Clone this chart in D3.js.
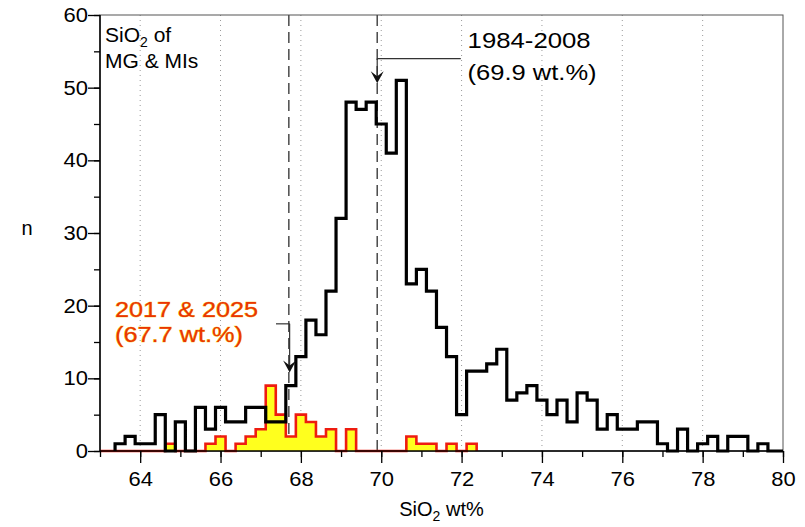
<!DOCTYPE html>
<html><head><meta charset="utf-8">
<script src="https://cdn.jsdelivr.net/npm/d3@7"></script>
<style>
html,body{margin:0;padding:0;background:#fff;}
svg text{font-family:"Liberation Sans",Arial,Helvetica,sans-serif;}
</style></head>
<body><svg id="chart" width="805" height="527"></svg>
<script>
// ---- data ----
const binWidth = 0.25;
const binFirstEdge = 63.375;
// counts for 1984-2008 (MG & MIs), bins centred 63.5 ... 79.75
const countsOld = [1,2,1,1,5,0,4,0,6,3,6,4,4,6,6,4,4,
                   9,13,18,16,22,32,48,47,48,45,41,51,23,25,22,17,13,
                   5,11,11,12,14,7,8,9,7,5,7,4,8,7,3,5,
                   3,3,4,4,1,0,3,0,1,2,0,2,2,0,1,0];
// counts for 2017 & 2025, bins centred 63.5 ... 72.25
const countsNew = [0,0,0,0,0,1,0,0,0,1,2,0,1,2,3,9,5,2,5,4,2,3,0,3,0,0,0,0,0,2,1,1,0,1,0,1];
const xTickMajor = [64,66,68,70,72,74,76,78,80];
const xTickMinor = d3.range(63,81,1);
const yTickMajor = [0,10,20,30,40,50,60];
const yTickMinor = d3.range(0,61,5);
const meanOld = 69.9, meanNew = 67.7;
const labelOld = ["1984-2008","(69.9 wt.%)"];
const labelNew = ["2017 & 2025","(67.7 wt.%)"];

// ---- layout ----
const svg = d3.select("#chart");
const m = {l:100, t:15, r:22, b:76};
const W = 805 - m.l - m.r, H = 527 - m.t - m.b;
const x = d3.scaleLinear().domain([63,80]).range([m.l, m.l+W]);
const y = d3.scaleLinear().domain([0,60]).range([m.t+H, m.t]);

// gridlines (dotted)
svg.append("g").selectAll("line").data(xTickMajor.filter(v=>v<80)).join("line")
  .attr("x1",d=>x(d)).attr("x2",d=>x(d)).attr("y1",y(0)).attr("y2",y(60))
  .attr("stroke","#9a9a9a").attr("stroke-width",1).attr("stroke-dasharray","1,4");

// frame
svg.append("rect").attr("x",x(63)).attr("y",y(60)).attr("width",x(80)-x(63)).attr("height",y(0)-y(60))
  .attr("fill","none").attr("stroke","#555").attr("stroke-width",1);

// mean dashed lines
svg.append("g").selectAll("line").data([meanNew, meanOld]).join("line")
  .attr("x1",d=>x(d)).attr("x2",d=>x(d)).attr("y1",y(0)).attr("y2",y(60))
  .attr("stroke","#4a4a4a").attr("stroke-width",1.5).attr("stroke-dasharray","11,6");

function stepPoints(counts, startPad, endPad){
  const pts = [];
  if (startPad!==null) pts.push([startPad,0]);
  pts.push([binFirstEdge,0]);
  counts.forEach((c,i)=>pts.push([binFirstEdge+i*binWidth, c]));
  const end = binFirstEdge + counts.length*binWidth;
  pts.push([end,0]);
  if (endPad!==null) pts.push([endPad,0]);
  return pts;
}
const line = d3.line().x(d=>x(d[0])).y(d=>y(d[1])).curve(d3.curveStepAfter);
const area = d3.area().x(d=>x(d[0])).y0(y(0)).y1(d=>y(d[1])).curve(d3.curveStepAfter);

const ptsNew = stepPoints(countsNew, 63, null);
svg.append("path").attr("d",area(ptsNew)).attr("fill","#ffff1e");
svg.append("path").attr("d",line(ptsNew)).attr("fill","none").attr("stroke","#ee1c10").attr("stroke-width",2.6).attr("stroke-linejoin","miter");

const ptsOld = stepPoints(countsOld, null, 80);
svg.append("path").attr("d",line(ptsOld)).attr("fill","none").attr("stroke","#000").attr("stroke-width",3.2).attr("stroke-linejoin","miter");

// axes
const axB = svg.append("g").attr("transform",`translate(0,${y(0)})`);
axB.append("g").call(d3.axisBottom(x).tickValues(xTickMinor).tickSize(6).tickFormat(""))
  .call(g=>g.select(".domain").remove());
axB.append("g").call(d3.axisBottom(x).tickValues(xTickMajor).tickSize(12).tickPadding(9).tickFormat(d3.format("d")))
  .call(g=>g.select(".domain").remove());
axB.append("line").attr("x1",x(63)).attr("x2",x(80)).attr("stroke","#000").attr("stroke-width",1.5);
axB.selectAll(".tick line").attr("stroke","#000").attr("stroke-width",1.3);
axB.selectAll(".tick text").attr("font-size",20).attr("fill","#000")
  .attr("textLength",function(){return this.textContent.length*12.2;}).attr("lengthAdjust","spacingAndGlyphs");

const axL = svg.append("g").attr("transform",`translate(${x(63)},0)`);
axL.append("g").call(d3.axisLeft(y).tickValues(yTickMinor).tickSize(6).tickFormat(""))
  .call(g=>g.select(".domain").remove());
axL.append("g").call(d3.axisLeft(y).tickValues(yTickMajor).tickSize(12).tickPadding(0).tickFormat(d3.format("d")))
  .call(g=>g.select(".domain").remove());
axL.append("line").attr("y1",y(0)).attr("y2",y(60)).attr("stroke","#000").attr("stroke-width",1.5);
axL.selectAll(".tick line").attr("stroke","#000").attr("stroke-width",1.3);
axL.selectAll(".tick text").attr("font-size",20).attr("fill","#000")
  .attr("textLength",function(){return this.textContent.length*12.2;}).attr("lengthAdjust","spacingAndGlyphs");

// axis titles
const xt = svg.append("text").attr("x",x(71.5)).attr("y",516).attr("text-anchor","middle").attr("font-size",20).attr("fill","#000");
xt.append("tspan").text("SiO");
xt.append("tspan").text("2").attr("font-size",14).attr("dy",5);
xt.append("tspan").text(" wt%").attr("dy",-5);
svg.append("text").attr("x",27).attr("y",y(30)+2).attr("text-anchor","middle").attr("font-size",20).text("n");

// inner title
const t1 = svg.append("text").attr("x",x(63)+5).attr("y",42).attr("font-size",21);
t1.append("tspan").text("SiO");
t1.append("tspan").text("2").attr("font-size",14).attr("dy",5);
t1.append("tspan").text(" of").attr("dy",-5);
svg.append("text").attr("x",x(63)+5).attr("y",68).attr("font-size",21).text("MG & MIs");

// annotation arrows
function arrow(xv, nTop, nTip, xFrom){
  const g = svg.append("g").attr("stroke","#333").attr("fill","none").attr("stroke-width",1.2);
  g.append("line").attr("x1",x(xFrom)).attr("x2",x(xv)).attr("y1",y(nTop)).attr("y2",y(nTop));
  g.append("line").attr("x1",x(xv)).attr("x2",x(xv)).attr("y1",y(nTop)).attr("y2",y(nTip)-4);
  const tx = x(xv), ty = y(nTip);
  svg.append("path").attr("d",`M${tx},${ty} L${tx-6.5},${ty-12} L${tx},${ty-7} L${tx+6.5},${ty-12} Z`).attr("fill","#111");
}
arrow(meanOld, 54.0, 50.6, 71.98);
arrow(meanNew+0.02, 17.5, 10.8, 67.38);

// annotation texts
svg.append("text").attr("x",x(72.15)).attr("y",48).attr("font-size",21.5).attr("fill","#000")
  .attr("textLength",123).attr("lengthAdjust","spacingAndGlyphs").text(labelOld[0]);
svg.append("text").attr("x",x(72.15)).attr("y",80).attr("font-size",21.5).attr("fill","#000")
  .attr("textLength",129).attr("lengthAdjust","spacingAndGlyphs").text(labelOld[1]);
svg.append("text").attr("x",115).attr("y",317).attr("font-size",21.5).attr("fill","#ea3404")
  .attr("stroke","#f7c800").attr("stroke-width",0.7).attr("paint-order","stroke")
  .attr("textLength",143).attr("lengthAdjust","spacingAndGlyphs").text(labelNew[0]);
svg.append("text").attr("x",115).attr("y",342).attr("font-size",21.5).attr("fill","#ea3404")
  .attr("stroke","#f7c800").attr("stroke-width",0.7).attr("paint-order","stroke")
  .attr("textLength",128).attr("lengthAdjust","spacingAndGlyphs").text(labelNew[1]);
</script></body></html>
